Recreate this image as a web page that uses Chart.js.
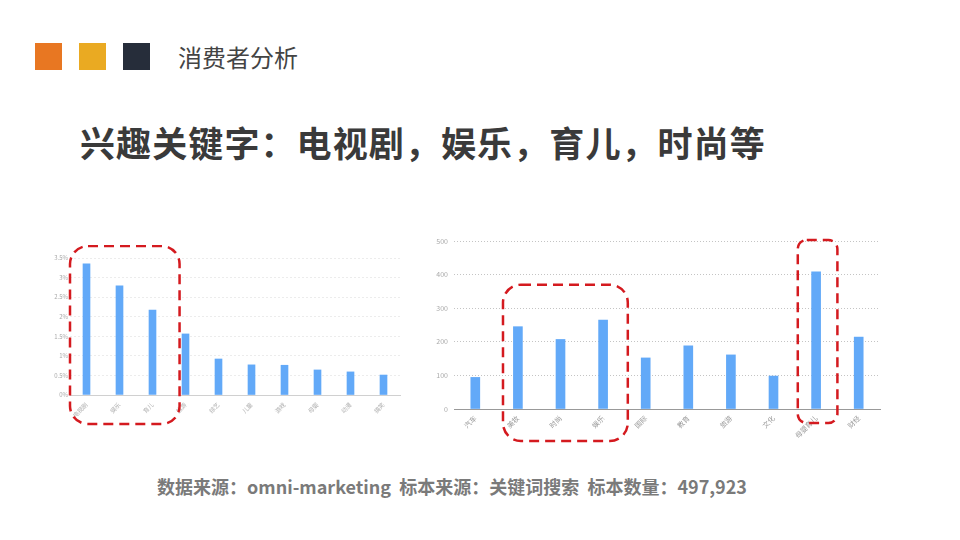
<!DOCTYPE html>
<html><head><meta charset="utf-8">
<script src="https://cdn.jsdelivr.net/npm/chart.js@4/dist/chart.umd.min.js"></script>
<style>
html,body{margin:0;padding:0;background:#fff;}
body{width:960px;height:540px;position:relative;overflow:hidden;font-family:"Noto Sans CJK SC","Noto Sans",sans-serif;}
.sq{position:absolute;top:43px;width:27px;height:27px;}
#hdr{position:absolute;left:178px;top:40px;font-size:24px;color:#444;line-height:34px;}
#title{position:absolute;left:80px;top:117px;font-size:35px;font-weight:bold;color:#3a3a3a;line-height:50px;letter-spacing:1.1px;}
#foot{position:absolute;left:0;width:904px;text-align:center;top:472px;font-size:18px;font-weight:bold;color:#7a7a7a;line-height:28px;}
#c1wrap{position:absolute;left:40px;top:245px;width:362px;height:190px;}
#c2wrap{position:absolute;left:420px;top:230px;width:465px;height:215px;}
</style></head><body>
<div class="sq" style="left:35px;background:#E87722"></div>
<div class="sq" style="left:79px;background:#EAAA22"></div>
<div class="sq" style="left:123px;background:#262D3A"></div>
<div id="hdr">消费者分析</div>
<div id="title">兴趣关键字：电视剧，娱乐，育儿，时尚等</div>
<div id="c1wrap"><canvas id="c1" width="362" height="190"></canvas></div>
<div id="c2wrap"><canvas id="c2" width="465" height="215"></canvas></div>
<div id="foot">数据来源：omni-marketing&nbsp;&nbsp;标本来源：关键词搜索&nbsp;&nbsp;标本数量：497,923</div>
<script>
// Left chart data (share %)
const leftCategories = ['电视剧','娱乐','育儿','旅游','综艺','儿童','游戏','母婴','动漫','搞笑'];
const leftValues = [3.35, 2.79, 2.17, 1.56, 0.92, 0.77, 0.76, 0.64, 0.59, 0.51];
const leftTicks = ['0%','0.5%','1%','1.5%','2%','2.5%','3%','3.5%'];
// Right chart data (counts)
const rightCategories = ['汽车','美妆','时尚','娱乐','国际','教育','旅游','文化','母婴育儿','财经'];
const rightValues = [94, 245, 207, 265, 152, 188, 161, 98, 408, 214];

const BAR = '#62a9f8';
const FONT = '"Noto Sans CJK SC","Noto Sans",sans-serif';

function roundRect(ctx,x,y,w,h,r){
  ctx.beginPath();
  ctx.moveTo(x+r,y);ctx.lineTo(x+w-r,y);ctx.arcTo(x+w,y,x+w,y+r,r);
  ctx.lineTo(x+w,y+h-r);ctx.arcTo(x+w,y+h,x+w-r,y+h,r);
  ctx.lineTo(x+r,y+h);ctx.arcTo(x,y+h,x,y+h-r,r);
  ctx.lineTo(x,y+r);ctx.arcTo(x,y,x+r,y,r);ctx.closePath();
}
function boxesPlugin(boxes){
  return {id:'boxes',afterDraw(chart){
    const ctx=chart.ctx, xs=chart.scales.x, ys=chart.scales.y, ca=chart.chartArea;
    const step = xs.getPixelForValue(1)-xs.getPixelForValue(0);
    ctx.save();
    ctx.strokeStyle='#d41a1f';ctx.lineWidth=2.5;ctx.setLineDash([10,6]);
    boxes.forEach(b=>{
      const l=xs.getPixelForValue(b.from)-b.padL*step;
      const r=xs.getPixelForValue(b.to)+b.padR*step;
      const t=(b.topVal!=null?ys.getPixelForValue(b.topVal):ca.top)-b.topOff;
      const bt=ca.bottom+b.botOff;
      roundRect(ctx,l,t,r-l,bt-t,b.r);ctx.stroke();
    });
    ctx.restore();
  }};
}

new Chart(document.getElementById('c1'),{
  type:'bar',
  data:{labels:leftCategories,datasets:[{data:leftValues,backgroundColor:BAR,barThickness:7}]},
  options:{responsive:false,animation:false,
    layout:{padding:{top:13,right:2,left:0,bottom:0}},
    plugins:{legend:{display:false},tooltip:{enabled:false}},
    scales:{
      x:{grid:{display:false,drawTicks:false},border:{color:'#d0d0d0',width:1},
        ticks:{color:'#b0b0b0',font:{size:6,family:FONT},maxRotation:45,minRotation:45,padding:6},
        afterFit(s){s.height=40;}},
      y:{min:0,max:3.5,grid:{color:'#ececec',drawTicks:false,lineWidth:1},border:{display:false,dash:[2,2]},
        ticks:{stepSize:0.5,color:'#aaa',font:{size:6,family:FONT},padding:2,
          callback:(v,i)=>leftTicks[i]},
        afterFit(s){s.width=30;}}
    }},
  plugins:[boxesPlugin([{from:0,to:2,padL:0.5,padR:0.82,topOff:12,botOff:29,r:18}])]
});

new Chart(document.getElementById('c2'),{
  type:'bar',
  data:{labels:rightCategories,datasets:[{data:rightValues,backgroundColor:BAR,barThickness:9}]},
  options:{responsive:false,animation:false,
    layout:{padding:{top:11,right:5,left:0,bottom:0}},
    plugins:{legend:{display:false},tooltip:{enabled:false}},
    scales:{
      x:{grid:{display:false,drawTicks:true,tickLength:3,color:'#999'},border:{color:'#999',width:1},
        ticks:{color:'#999',font:{size:7,family:FONT},maxRotation:45,minRotation:45,padding:2},
        afterFit(s){s.height=36;}},
      y:{min:0,max:500,grid:{color:'#c4c4c4',drawTicks:false,lineWidth:1},border:{display:false,dash:[1,2]},
        ticks:{stepSize:100,color:'#aaa',font:{size:7,family:FONT},padding:6},
        afterFit(s){s.width=34;}}
    }},
  plugins:[boxesPlugin([
    {from:1,to:3,padL:0.35,padR:0.58,topVal:370,topOff:0,botOff:32,r:18},
    {from:8,to:8,padL:0.43,padR:0.5,topOff:1,botOff:14,r:9}
  ])]
});
</script>
</body></html>
